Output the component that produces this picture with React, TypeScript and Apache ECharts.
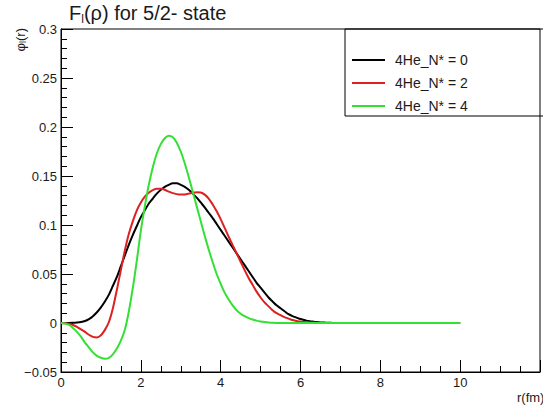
import { useEffect, useRef } from 'react';
import * as echarts from 'echarts';

// radius r (fm): 0.0 .. 7.0 every 0.1, then 8, 9, 10
const rValues = [
  0.0, 0.1, 0.2, 0.3, 0.4, 0.5, 0.6, 0.7, 0.8, 0.9,
  1.0, 1.1, 1.2, 1.3, 1.4, 1.5, 1.6, 1.7, 1.8, 1.9,
  2.0, 2.1, 2.2, 2.3, 2.4, 2.5, 2.6, 2.7, 2.8, 2.9,
  3.0, 3.1, 3.2, 3.3, 3.4, 3.5, 3.6, 3.7, 3.8, 3.9,
  4.0, 4.1, 4.2, 4.3, 4.4, 4.5, 4.6, 4.7, 4.8, 4.9,
  5.0, 5.1, 5.2, 5.3, 5.4, 5.5, 5.6, 5.7, 5.8, 5.9,
  6.0, 6.1, 6.2, 6.3, 6.4, 6.5, 6.6, 6.7, 6.8, 6.9,
  7.0, 8.0, 9.0, 10.0,
];
// 4He_N* = 0
const phiN0 = [
  0, 0, 0, 0.0002, 0.0005, 0.001, 0.002, 0.004, 0.007, 0.011,
  0.016, 0.022, 0.029, 0.038, 0.047, 0.058, 0.069, 0.08, 0.09, 0.099,
  0.108, 0.115, 0.122, 0.127, 0.132, 0.136, 0.139, 0.141, 0.1425, 0.1425,
  0.141, 0.139, 0.136, 0.132, 0.128, 0.123, 0.118, 0.1125, 0.107, 0.101,
  0.095, 0.089, 0.083, 0.077, 0.071, 0.065, 0.059, 0.053, 0.047, 0.041,
  0.036, 0.031, 0.026, 0.022, 0.018, 0.015, 0.012, 0.009, 0.007, 0.0055,
  0.004, 0.003, 0.002, 0.0015, 0.001, 0.0006, 0.0004, 0.0002, 0.0001, 0,
  0, 0, 0, 0,
];
// 4He_N* = 2
const phiN2 = [
  0, -0.0003, -0.001, -0.002, -0.004, -0.0065, -0.009, -0.012, -0.0142, -0.0147,
  -0.0125, -0.007, 0.001, 0.015, 0.034, 0.054, 0.074, 0.091, 0.104, 0.115,
  0.123, 0.129, 0.133, 0.1355, 0.137, 0.137, 0.136, 0.134, 0.1325, 0.1315,
  0.131, 0.1312, 0.132, 0.133, 0.1335, 0.1332, 0.131, 0.127, 0.121, 0.114,
  0.106, 0.097, 0.088, 0.0795, 0.071, 0.0625, 0.054, 0.046, 0.039, 0.032,
  0.026, 0.021, 0.017, 0.013, 0.01, 0.008, 0.006, 0.0045, 0.003, 0.002,
  0.0015, 0.001, 0.0007, 0.0004, 0.0002, 0.0001, 0, 0, 0, 0,
  0, 0, 0, 0,
];
// 4He_N* = 4
const phiN4 = [
  0, -0.0005, -0.002, -0.005, -0.009, -0.014, -0.02, -0.025, -0.03, -0.0335,
  -0.0355, -0.0365, -0.0355, -0.032, -0.026, -0.018, -0.007, 0.012, 0.036, 0.064,
  0.094, 0.119, 0.141, 0.159, 0.173, 0.1825, 0.1885, 0.191, 0.1895, 0.184,
  0.175, 0.163, 0.149, 0.134, 0.119, 0.104, 0.089, 0.075, 0.062, 0.05,
  0.04, 0.031, 0.024, 0.018, 0.013, 0.0095, 0.007, 0.005, 0.0035, 0.0024,
  0.0016, 0.001, 0.0006, 0.0003, 0.0001, 0, 0, 0, 0, 0,
  0, 0, 0, 0, 0, 0, 0, 0, 0, 0,
  0, 0, 0, 0,
];

const seriesNames = ['4He_N* = 0', '4He_N* = 2', '4He_N* = 4'];
const seriesValues = [phiN0, phiN2, phiN4];
const seriesColors = ['#000000', '#dd2020', '#33e033'];

const FONT = 'Liberation Sans';
const TEXT = '#1a1a1a';

export default function App() {
  const ref = useRef<HTMLDivElement>(null);
  useEffect(() => {
    document.body.style.margin = '0';
    const chart = echarts.init(ref.current!, null, { renderer: 'svg' });
    chart.setOption({
      animation: false,
      backgroundColor: '#ffffff',
      title: {
        text: '{m|F}{s|l}{m|(ρ) for 5/2- state}',
        left: 69,
        top: 1,
        padding: 0,
        textStyle: {
          fontWeight: 'normal',
          rich: {
            m: { fontFamily: FONT, fontSize: 20, fontWeight: 'normal', lineHeight: 24, color: TEXT },
            s: { fontFamily: FONT, fontSize: 12, fontWeight: 'normal', lineHeight: 12, verticalAlign: 'bottom', color: TEXT },
          },
        },
      },
      legend: {
        orient: 'vertical',
        left: 352,
        top: 52,
        padding: 0,
        itemWidth: 33,
        itemHeight: 2,
        itemGap: 7,
        icon: 'rect',
        data: seriesNames,
        textStyle: { fontFamily: FONT, fontSize: 14, lineHeight: 16, color: TEXT, padding: [0, 0, 0, 5] },
      },
      grid: {
        left: 61,
        top: 29,
        width: 528,
        height: 343,
        show: true,
        borderColor: '#000',
        borderWidth: 1,
      },
      xAxis: {
        type: 'value',
        min: 0,
        max: 12,
        interval: 2,
        axisLine: { onZero: false, lineStyle: { color: '#000', width: 1 } },
        axisTick: { inside: true, length: 12, lineStyle: { color: '#000' } },
        minorTick: { show: true, splitNumber: 4, length: 6, lineStyle: { color: '#000' } },
        splitLine: { show: false },
        axisLabel: {
          margin: 4,
          fontFamily: FONT,
          fontSize: 13,
          color: TEXT,
          formatter: (v: number) => (v <= 10 ? String(v) : ''),
        },
      },
      yAxis: {
        type: 'value',
        min: -0.05,
        max: 0.3,
        interval: 0.05,
        axisLine: { show: true, onZero: false, lineStyle: { color: '#000', width: 1 } },
        axisTick: { inside: true, length: 12, lineStyle: { color: '#000' } },
        minorTick: { show: true, splitNumber: 5, length: 6, lineStyle: { color: '#000' } },
        splitLine: { show: false },
        axisLabel: {
          margin: 4,
          fontFamily: FONT,
          fontSize: 13,
          color: TEXT,
          formatter: (v: number) => String(Number(v.toFixed(2))).replace('-', '−'),
        },
      },
      graphic: [
        {
          type: 'rect',
          shape: { x: 345, y: 29, width: 260, height: 87 },
          style: { fill: 'none', stroke: '#000', lineWidth: 1 },
          z: 1,
        },
        {
          type: 'text',
          x: 20,
          y: 28,
          rotation: Math.PI / 2,
          style: {
            text: '{m|φ}{s|l}{m|(r)}',
            align: 'right',
            verticalAlign: 'middle',
            rich: {
              m: { fontFamily: FONT, fontSize: 13, lineHeight: 15, fill: TEXT },
              s: { fontFamily: FONT, fontSize: 9, lineHeight: 9, verticalAlign: 'bottom', fill: TEXT },
            },
          },
        },
        {
          type: 'text',
          x: 517,
          y: 397,
          style: {
            text: 'r(fm)',
            fontFamily: FONT,
            fontSize: 13,
            fill: TEXT,
            verticalAlign: 'middle',
          },
        },
      ],
      series: seriesNames.map((name, k) => ({
        name,
        type: 'line',
        symbol: 'none',
        showSymbol: false,
        smooth: 0.3,
        color: seriesColors[k],
        lineStyle: { width: 2, color: seriesColors[k] },
        data: rValues.map((r, i) => [r, seriesValues[k][i]]),
      })),
    });
    return () => chart.dispose();
  }, []);
  return <div ref={ref} style={{ width: 543, height: 406 }} />;
}
